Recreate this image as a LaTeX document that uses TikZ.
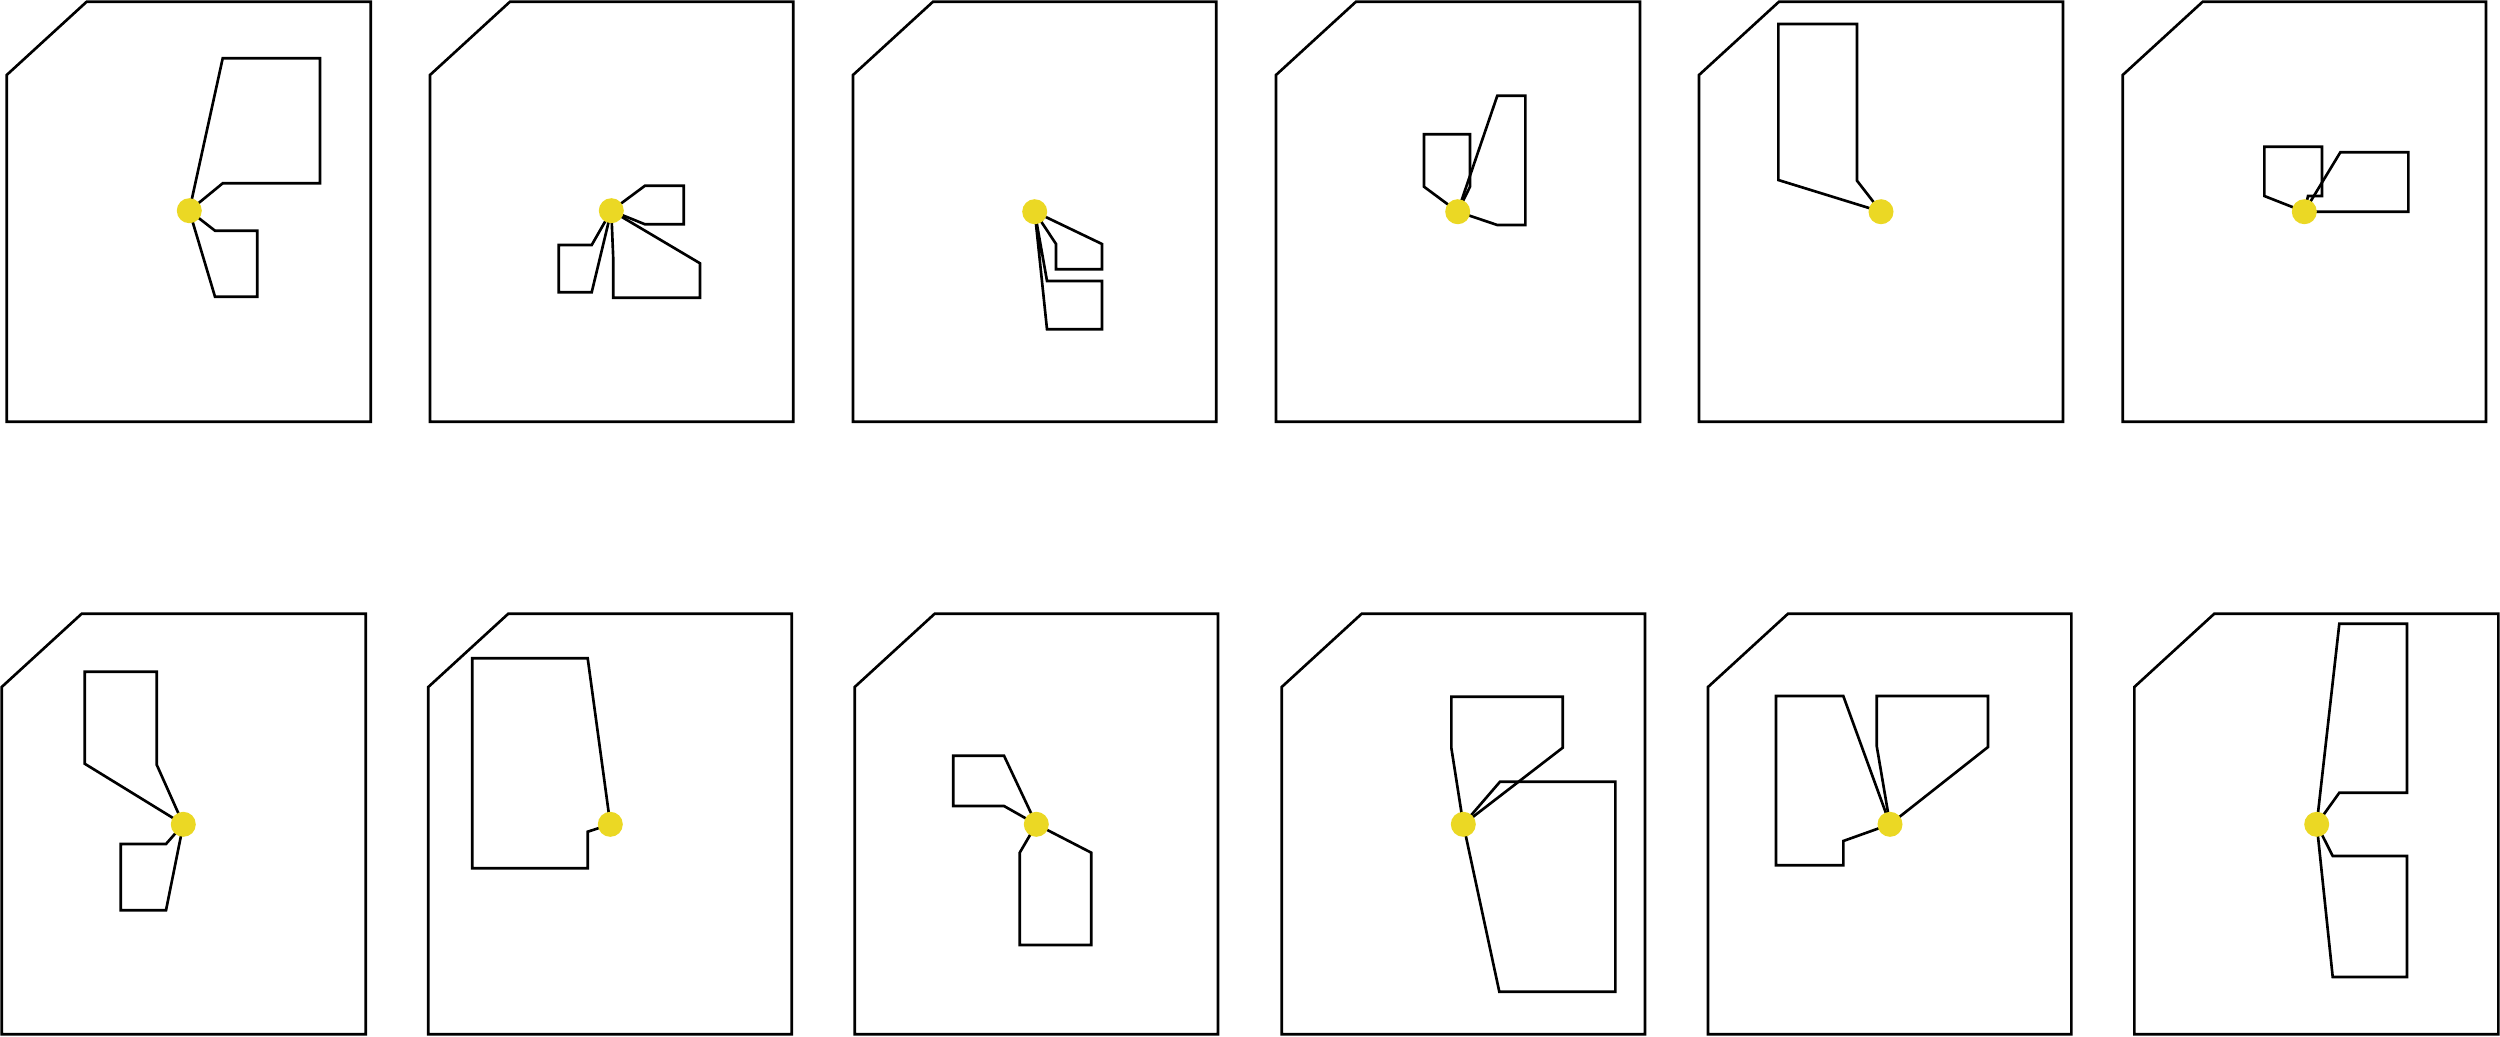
\documentclass[tikz,border=0pt]{standalone}
\definecolor{dotyellow}{RGB}{235,216,36}
\newcommand\panelbox[4]{\draw[panelline] (#1,#3+73.3) -- (#1+80,#3) -- (#2,#3) -- (#2,#4) -- (#1,#4) -- cycle;}
\begin{document}
\begin{tikzpicture}[x=0.01cm,y=-0.01cm,
  panelline/.style={draw=black,line width=0.75pt,line join=miter},
  shapeline/.style={draw=black,line width=0.75pt,line join=miter},
  hub/.style={circle,fill=dotyellow,draw=none,minimum size=0.25cm,inner sep=0pt}]
\useasboundingbox (0,0) rectangle (2500,1036);
% panels
\panelbox{6.7}{370.7}{1.7}{421.7}
\panelbox{430}{793.3}{1.7}{421.7}
\panelbox{853}{1216.3}{1.7}{421.7}
\panelbox{1276}{1640}{1.7}{421.7}
\panelbox{1699}{2063}{1.7}{421.7}
\panelbox{2122.7}{2486}{1.7}{421.7}
\panelbox{1.7}{365.7}{613.7}{1034.3}
\panelbox{428.3}{791.7}{613.7}{1034.3}
\panelbox{854.7}{1218}{613.7}{1034.3}
\panelbox{1281.7}{1645}{613.7}{1034.3}
\panelbox{1708}{2071.3}{613.7}{1034.3}
\panelbox{2134.3}{2498.3}{613.7}{1034.3}
% hub positions
\coordinate (c1) at (189.3,210.7);
\coordinate (c2) at (611.3,210.7);
\coordinate (c3) at (1034.7,211.7);
\coordinate (c4) at (1457.7,211.7);
\coordinate (c5) at (1881,211.7);
\coordinate (c6) at (2304.3,211.7);
\coordinate (c7) at (183.3,824.3);
\coordinate (c8) at (610.3,824.3);
\coordinate (c9) at (1036.3,824.3);
\coordinate (c10) at (1463.3,824.3);
\coordinate (c11) at (1890,824.3);
\coordinate (c12) at (2316.7,824.3);
% panel 1
\draw[shapeline] (c1) -- (222.7,58.3) -- (320,58.3) -- (320,183.3) -- (222.7,183.3) -- (c1);
\draw[shapeline] (c1) -- (215,230.7) -- (257.3,230.7) -- (257.3,296.7) -- (215,296.7) -- (c1);
% panel 2
\draw[shapeline] (c2) -- (645,185.7) -- (683.7,185.7) -- (683.7,224.3) -- (645,224.3) -- (c2);
\draw[shapeline] (c2) -- (591.7,245) -- (558.7,245) -- (558.7,292.3) -- (591.7,292.3) -- (c2);
\draw[shapeline] (c2) -- (700,263.3) -- (700,297.7) -- (613.3,297.7) -- (613.3,260) -- (c2);
% panel 3
\draw[shapeline] (c3) -- (1102,244) -- (1102,269.3) -- (1056,269.3) -- (1056,244) -- (c3);
\draw[shapeline] (c3) -- (1047,281) -- (1102,281) -- (1102,329.3) -- (1047,329.3) -- (c3);
% panel 4
\draw[shapeline] (c4) -- (1424,186.7) -- (1424,134.3) -- (1470,134.3) -- (1470,186.7) -- (c4);
\draw[shapeline] (c4) -- (1497.3,95.7) -- (1525.3,95.7) -- (1525.3,225) -- (1497.3,225) -- (c4);
% panel 5
\draw[shapeline] (c5) -- (1778.3,180) -- (1778.3,24) -- (1857,24) -- (1857,180.7) -- (c5);
% panel 6
\draw[shapeline] (c6) -- (2264.3,196) -- (2264.3,146.7) -- (2322,146.7) -- (2322,196) -- (2308,196) -- (c6);
\draw[shapeline] (c6) -- (2340.3,152.3) -- (2408.3,152.3) -- (2408.3,211.7) -- (c6);
% panel 7
\draw[shapeline] (c7) -- (84.7,763.7) -- (84.7,671.7) -- (156.7,671.7) -- (156.7,764.7) -- (c7);
\draw[shapeline] (c7) -- (166,844) -- (120.7,844) -- (120.7,910.3) -- (166,910.3) -- (c7);
% panel 8
\draw[shapeline] (c8) -- (587.7,658.3) -- (472.3,658.3) -- (472.3,868.3) -- (587.7,868.3) -- (587.7,831.7) -- (c8);
% panel 9
\draw[shapeline] (c9) -- (1004,755.7) -- (953.3,755.7) -- (953.3,806) -- (1004,806) -- (c9);
\draw[shapeline] (c9) -- (1091.3,852.7) -- (1091.3,945) -- (1019.7,945) -- (1019.7,852.7) -- (c9);
% panel 10
\draw[shapeline] (c10) -- (1451.3,747.7) -- (1451.3,696.7) -- (1562.7,696.7) -- (1562.7,747.7) -- (c10);
\draw[shapeline] (c10) -- (1500,781.7) -- (1615.3,781.7) -- (1615.3,991.7) -- (1499.3,991.7) -- (c10);
% panel 11
\draw[shapeline] (c11) -- (1843.3,696) -- (1776,696) -- (1776,865.3) -- (1843.3,865.3) -- (1843.3,841) -- (c11);
\draw[shapeline] (c11) -- (1876.7,746) -- (1876.7,696) -- (1988,696) -- (1988,747) -- (c11);
% panel 12
\draw[shapeline] (c12) -- (2339.3,623.7) -- (2407,623.7) -- (2407,792.7) -- (2339.3,792.7) -- (c12);
\draw[shapeline] (c12) -- (2332.7,856) -- (2407,856) -- (2407,977) -- (2332.7,977) -- (c12);
% hubs on top
\foreach \i in {1,...,12} { \node[hub] (d\i) at (c\i) {}; }
\end{tikzpicture}
\end{document}
